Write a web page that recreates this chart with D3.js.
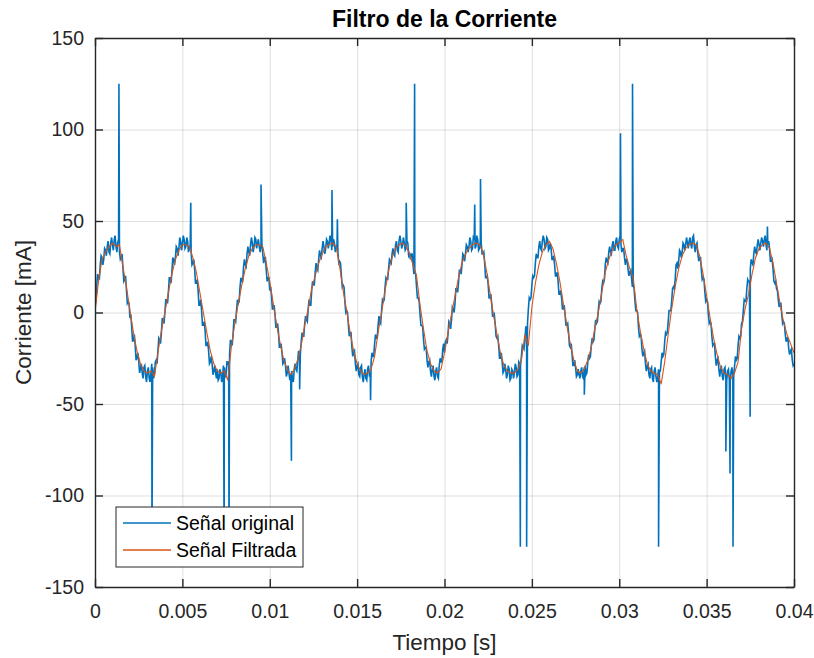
<!DOCTYPE html>
<html>
<head>
<meta charset="utf-8">
<script src="https://cdnjs.cloudflare.com/ajax/libs/d3/7.8.5/d3.min.js"></script>
<style>
    body { margin: 0; background: #fff; }
    svg text { font-family: "Liberation Sans", Arial, Helvetica, sans-serif; fill: #262626; }
    .grid line { stroke: #262626; stroke-opacity: 0.15; }
    .grid path { display: none; }
    .axis path, .axis line { stroke: #262626; }
</style>
</head>
<body>
<div id="chart-area"></div>
<script>

// sampling step of the two signals (s)
var originalStep = 0.0001;
var filteredStep = 0.0002;

// Señal original, one value every 0.1 ms (mA)
var originalValues = [
    4, 15, 19, 26, 30, 29, 34, 36, 33, 38,
    37, 40, 36, 38, 33, 30, 24, 18, 12, 6,
    -3, -8, -15, -18, -25, -26, -31, -33, -30, -35,
    -32, -36, -33, -30, -34, -26, -21, -15, -11, -4,
    0, 7, 11, 19, 22, 29, 30, 35, 35, 39,
    37, 40, 36, 39, 35, 33, 27, 24, 16, 12,
    4, 1, -7, -10, -18, -21, -27, -28, -32, -33,
    -31, -36, -33, -35, -30, -34, -27, -23, -16, -12,
    -4, 1, 5, 14, 17, 25, 26, 32, 33, 37,
    38, 36, 40, 38, 36, 37, 32, 30, 23, 19,
    12, 9, 2, -1, -8, -11, -19, -22, -27, -29,
    -33, -33, -34, -36, -31, -31, -26, -23, -16, -13,
    -6, -4, 2, 4, 12, 15, 22, 24, 29, 31,
    35, 36, 35, 39, 38, 40, 36, 38, 35, 33,
    28, 20, 15, 6, 1, -7, -11, -19, -22, -28,
    -29, -34, -30, -35, -34, -36, -31, -34, -27, -24,
    -17, -14, -7, -5, 1, 6, 14, 18, 24, 28,
    32, 32, 37, 34, 39, 39, 37, 38, 35, 38,
    32, 32, 26, 23, 14, 8, -1, -7, -15, -19,
    -26, -27, -32, -31, -35, -32, -35, -29, -27, -20,
    -22, -15, -12, -6, -4, 2, 5, 13, 16, 23,
    26, 31, 32, 36, 36, 39, 35, 40, 36, 40,
    35, 38, 32, 27, 19, 15, 8, 5, -2, -6,
    -14, -18, -25, -27, -32, -31, -34, -31, -36, -32,
    -33, -30, -34, -28, -24, -19, -15, -8, 2, 7,
    15, 19, 27, 30, 36, 35, 39, 40, 36, 40,
    35, 35, 29, 26, 20, 17, 10, 8, 2, -1,
    -7, -11, -19, -23, -29, -30, -34, -34, -32, -35,
    -30, -34, -27, -25, -18, -16, -9, -6, 1, 5,
    13, 16, 26, 28, 33, 33, 37, 34, 39, 36,
    40, 37, 35, 30, 29, 24, 22, 19, 15, 6,
    1, -8, -12, -20, -22, -28, -29, -34, -31, -36,
    -32, -35, -35, -32, -27, -24, -16, -12, -5, 1,
    6, 14, 18, 27, 28, 33, 33, 37, 37, 38,
    39, 37, 41, 36, 37, 32, 30, 23, 19, 11,
    7, -1, -5, -13, -17, -24, -26, -31, -31, -35,
    -31, -36, -32, -37, -32, -35, -29, -26, -18, -14,
    -6, 1, 6, 13, 17, 24, 27, 32, 33, 37,
    37, 38, 39, 40, 37, 37, 35, 28, 24, 16,
    13, 7, 5, -1, -5, -12, -14, -20, -21, -26,
    -28
];

// Señal original, the samples half way between the ones above (mA)
var originalHalfValues = [
    6, 21, 18, 31, 26, 35, 31, 39, 32, 41,
    34, 42, 33, 40, 29, 32, 17, 20, 5, 5,
    -1, -16, -12, -26, -22, -33, -28, -36, -29, -38,
    -30, -38, -28, -36, -27, -28, -14, -17, -3, -6,
    7, 5, 19, 16, 30, 26, 36, 31, 41, 34,
    42, 35, 41, 33, 37, 26, 29, 16, 18, 4,
    7, -7, -5, -18, -16, -28, -24, -34, -29, -36,
    -37, -31, -38, -29, -35, -27, -29, -15, -18, -4,
    -5, 7, 6, 19, 17, 29, 25, 36, 31, 41,
    33, 41, 35, 40, 33, 38, 27, 30, 17, 19,
    14, 2, 4, -8, -6, -19, -17, -28, -25, -35,
    -29, -37, -32, -38, -28, -32, -21, -23, -11, -13,
    -2, -5, 7, 4, 17, 15, 27, 23, 34, 30,
    39, 32, 40, 35, 42, 34, 40, 33, 37, 27,
    27, 14, 14, 0, 0, -13, -11, -24, -21, -32,
    -28, -35, -29, -38, -31, -37, -29, -33, -22, -24,
    -12, -14, -2, -6, 7, 7, 19, 18, 29, 27,
    35, 31, 39, 33, 42, 35, 41, 34, 39, 31,
    29, 32, 21, 21, 8, 6, -7, -8, -20, -19,
    -30, -26, -35, -29, -37, -30, -36, -25, -27, -17,
    -16, -17, -5, -9, 3, 0, 13, 11, 23, 21,
    32, 28, 37, 33, 41, 34, 41, 35, 42, 34,
    39, 32, 33, 19, 20, 8, 10, -2, -1, -13,
    -13, -25, -22, -33, -28, -36, -29, -37, -31, -36,
    -28, -35, -27, -29, -18, -20, -8, -6, 8, 8,
    20, 20, 32, 30, 39, 34, 42, 35, 41, 34,
    38, 29, 31, 20, 22, 10, 12, 2, 4, -7,
    -6, -18, -17, -29, -26, -35, -31, -36, -30, -36,
    -29, -33, -23, -24, -14, -15, -4, -5, 6, 6,
    17, 18, 30, 27, 36, 32, 39, 34, 41, 35,
    42, 33, 35, 26, 29, 20, 23, 14, 13, 1,
    0, -13, -13, -24, -21, -32, -28, -36, -30, -38,
    -30, -38, -31, -32, -22, -23, -11, -11, 1, 1,
    13, 13, 26, 24, 34, 30, 38, 34, 41, 35,
    41, 35, 42, 33, 38, 28, 30, 18, 18, 6,
    6, -6, -6, -18, -17, -29, -25, -35, -30, -37,
    -30, -37, -31, -38, -30, -35, -24, -25, -13, -13,
    -5, 7, 6, 18, 17, 29, 26, 36, 32, 40,
    34, 41, 36, 42, 34, 39, 28, 29, 17, 17,
    12, 3, 5, -6, -6, -16, -14, -23, -20, -29
];

// spikes of the original signal (time in s, value in mA)
var spikeTimes = [
    0.00137, 0.00326, 0.00548, 0.00739, 0.00767, 0.0095, 0.01124, 0.01171,
    0.01356, 0.01387, 0.01577, 0.01781, 0.01829, 0.02173, 0.02206, 0.02434,
    0.0247, 0.028, 0.03007, 0.03076, 0.03225, 0.0361, 0.03634, 0.03651,
    0.03749, 0.03848
];
var spikeValues = [
    125, -128, 60, -128, -128, 70, -81, -42,
    67, 51, -48, 60, 125, 59, 73, -128,
    -128, -45, 98, 125, -128, -76, -88, -128,
    -57, 47
];

// Señal Filtrada, one value every 0.2 ms (mA)
var filteredValues = [
    0, 17, 29, 33, 36, 38, 36, 37, 25, 14,
    1, -11, -21, -28, -32, -33, -32, -35, -22, -10,
    0, 11, 21, 29, 34, 37, 37, 36, 30, 22,
    11, 0, -11, -21, -28, -32, -33, -32, -37, -19,
    -6, 5, 15, 24, 31, 35, 37, 37, 36, 27,
    17, 5, -7, -17, -26, -31, -34, -31, -26, -18,
    -7, 2, 13, 20, 27, 32, 36, 37, 38, 36,
    25, 12, 1, -11, -21, -28, -32, -34, -33, -31,
    -24, -11, 0, 12, 23, 30, 35, 37, 38, 36,
    32, 26, 20, 4, -9, -21, -28, -32, -33, -31,
    -22, -11, -1, 9, 19, 27, 32, 35, 37, 38,
    37, 33, 23, 11, -1, -12, -22, -29, -32, -33,
    -33, -31, -26, -12, -18, 3, 16, 26, 33, 37,
    39, 35, 27, 17, 5, -7, -17, -26, -32, -33,
    -31, -26, -19, -9, 0, 11, 22, 29, 34, 37,
    38, 40, 31, 24, 19, 2, -10, -20, -28, -32,
    -33, -34, -39, -27, -12, 2, 14, 24, 31, 35,
    37, 38, 37, 31, 21, 9, -3, -14, -23, -30,
    -33, -34, -36, -33, -27, -9, 2, 10, 21, 30,
    35, 37, 38, 35, 27, 16, 5, -5, -12, -17,
    -22
];

var xTickValues = [0, 0.005, 0.01, 0.015, 0.02, 0.025, 0.03, 0.035, 0.04];
var xTickLabels = ["0", "0.005", "0.01", "0.015", "0.02", "0.025", "0.03", "0.035", "0.04"];
var yTickValues = [-150, -100, -50, 0, 50, 100, 150];
var yTickLabels = ["-150", "-100", "-50", "0", "50", "100", "150"];
var seriesNames = ["Señal original", "Señal Filtrada"];
var seriesColors = ["#0072BD", "#D95319"];


/*
 * CurrentChart - Object constructor function
 * @param _parentElement 	-- the HTML element in which to draw the visualization
 */

CurrentChart = function(_parentElement){
    this.parentElement = _parentElement;
    this.initVis();
}

CurrentChart.prototype.initVis = function(){
    var vis = this;

    vis.margin = { top: 38, right: 20, bottom: 71, left: 95 };

    vis.width = 814 - vis.margin.left - vis.margin.right,
    vis.height = 658 - vis.margin.top - vis.margin.bottom;

    vis.svg = d3.select("#" + vis.parentElement).append("svg")
        .attr("width", vis.width + vis.margin.left + vis.margin.right)
        .attr("height", vis.height + vis.margin.top + vis.margin.bottom)
      .append("g")
        .attr("transform", "translate(" + vis.margin.left + "," + vis.margin.top + ")");

    vis.svg.append("defs").append("clipPath")
        .attr("id", "clip")
        .append("rect")
        .attr("width", vis.width)
        .attr("height", vis.height);

    // Scales
    vis.x = d3.scaleLinear()
        .domain([0, 0.04])
        .range([0, vis.width]);

    vis.y = d3.scaleLinear()
        .domain([-150, 150])
        .range([vis.height, 0]);

    vis.wrangleData();
}

CurrentChart.prototype.wrangleData = function(){
    var vis = this;

    // original samples + half-step samples + spikes, sorted by time
    vis.originalData = originalValues.map(function(v, i){ return { t: i * originalStep, v: v }; });
    originalHalfValues.forEach(function(v, i){
        vis.originalData.push({ t: (i + 0.5) * originalStep, v: v });
    });
    spikeTimes.forEach(function(t, i){
        vis.originalData.push({ t: t, v: spikeValues[i] });
    });
    vis.originalData.sort(function(a, b){ return a.t - b.t; });

    vis.filteredData = filteredValues.map(function(v, i){ return { t: i * filteredStep, v: v }; });

    vis.updateVis();
}

CurrentChart.prototype.updateVis = function(){
    var vis = this;

    // Grid
    vis.svg.append("g")
        .attr("class", "grid")
        .attr("transform", "translate(0," + vis.height + ")")
        .call(d3.axisBottom(vis.x).tickValues(xTickValues).tickSize(-vis.height).tickFormat(""));

    vis.svg.append("g")
        .attr("class", "grid")
        .call(d3.axisLeft(vis.y).tickValues(yTickValues).tickSize(-vis.width).tickFormat(""));

    // Lines
    var line = d3.line()
        .x(function(d){ return vis.x(d.t); })
        .y(function(d){ return vis.y(d.v); });

    var plot = vis.svg.append("g").attr("clip-path", "url(#clip)");

    plot.append("path")
        .datum(vis.originalData)
        .attr("fill", "none")
        .attr("stroke", seriesColors[0])
        .attr("stroke-width", 1.6)
        .attr("d", line);

    plot.append("path")
        .datum(vis.filteredData)
        .attr("fill", "none")
        .attr("stroke", seriesColors[1])
        .attr("stroke-width", 1.1)
        .attr("stroke-linejoin", "round")
        .attr("d", line);

    // Axes (box with inward ticks)
    var xAxis = d3.axisBottom(vis.x).tickValues(xTickValues)
        .tickFormat(function(d, i){ return xTickLabels[i]; })
        .tickSizeInner(-8).tickSizeOuter(0).tickPadding(17);
    var yAxis = d3.axisLeft(vis.y).tickValues(yTickValues)
        .tickFormat(function(d, i){ return yTickLabels[i]; })
        .tickSizeInner(-8).tickSizeOuter(0).tickPadding(11);

    vis.svg.append("g")
        .attr("class", "x-axis axis")
        .attr("transform", "translate(0," + vis.height + ")")
        .call(xAxis);
    vis.svg.append("g")
        .attr("class", "x-axis axis")
        .call(d3.axisTop(vis.x).tickValues(xTickValues).tickFormat("").tickSizeInner(-8).tickSizeOuter(0));

    vis.svg.append("g")
        .attr("class", "y-axis axis")
        .call(yAxis);
    vis.svg.append("g")
        .attr("class", "y-axis axis")
        .attr("transform", "translate(" + vis.width + ",0)")
        .call(d3.axisRight(vis.y).tickValues(yTickValues).tickFormat("").tickSizeInner(-8).tickSizeOuter(0));

    vis.svg.selectAll(".axis path").attr("stroke-width", 1.4);
    vis.svg.selectAll(".axis line").attr("stroke-width", 1.4);
    vis.svg.selectAll(".axis text")
        .style("font-size", "19.5px")
        .attr("fill", "#262626");

    // Titles
    vis.svg.append("text")
        .attr("x", vis.width / 2)
        .attr("y", -11)
        .attr("text-anchor", "middle")
        .style("font-size", "23px")
        .style("font-weight", "bold")
        .style("fill", "#000")
        .text("Filtro de la Corriente");

    vis.svg.append("text")
        .attr("x", vis.width / 2)
        .attr("y", vis.height + 63)
        .attr("text-anchor", "middle")
        .style("font-size", "22.5px")
        .text("Tiempo [s]");

    vis.svg.append("text")
        .attr("transform", "translate(" + (-64) + "," + (vis.height / 2) + ") rotate(-90)")
        .attr("text-anchor", "middle")
        .style("font-size", "22.5px")
        .text("Corriente [mA]");

    // Legend
    var legend = vis.svg.append("g")
        .attr("transform", "translate(21," + (vis.height - 80) + ")");

    legend.append("rect")
        .attr("width", 187)
        .attr("height", 60)
        .attr("fill", "#fff")
        .attr("stroke", "#262626")
        .attr("stroke-width", 1);

    var items = legend.selectAll(".legend-item")
        .data(seriesNames)
        .enter().append("g")
        .attr("class", "legend-item")
        .attr("transform", function(d, i){ return "translate(0," + (16 + i * 27) + ")"; });

    items.append("line")
        .attr("x1", 7).attr("x2", 55)
        .attr("stroke", function(d, i){ return seriesColors[i]; })
        .attr("stroke-width", 1.3);

    items.append("text")
        .attr("x", 60)
        .attr("dy", "0.35em")
        .style("font-size", "19.5px")
        .style("fill", "#000")
        .text(function(d){ return d; });
}

new CurrentChart("chart-area");

</script>
</body>
</html>
